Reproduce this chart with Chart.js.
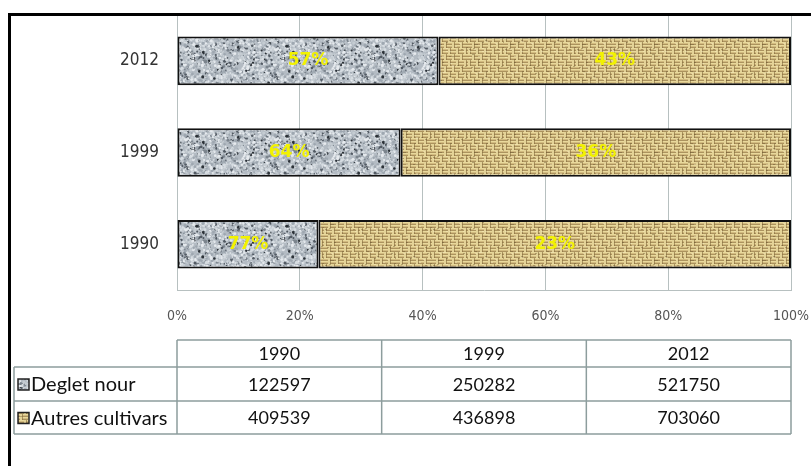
<!DOCTYPE html>
<html>
<head>
<meta charset="utf-8">
<script src="https://cdn.jsdelivr.net/npm/chart.js@4.4.1/dist/chart.umd.min.js"></script>
<style>
  html, body { margin: 0; padding: 0; background: #fff; }
  #wrap { width: 811px; height: 466px; position: relative; }
</style>
</head>
<body>
<div id="wrap"><canvas id="chart" width="811" height="466"></canvas></div>
<script>
// data
var years = ['1990', '1999', '2012'];
var seriesNames = ['Deglet nour', 'Autres cultivars'];
var degletNour = [122597, 250282, 521750];
var autresCultivars = [409539, 436898, 703060];
// percentage labels as printed on the bars
var degletLabels = ['77%', '64%', '57%'];
var autresLabels = ['23%', '36%', '43%'];
var xTicks = [0, 20, 40, 60, 80, 100];

// simple seeded generator, only used for the textures
var seed = 12345;
function rnd() {
    seed = (seed * 1103515245 + 12345) % 2147483648;
    return seed / 2147483648;
}

function makeGranite() {
    var c = document.createElement('canvas');
    c.width = 90; c.height = 90;
    var g = c.getContext('2d');
    g.fillStyle = '#b3bbc3';
    g.fillRect(0, 0, 90, 90);
    var cols = ['#e6eaee', '#d6dce1', '#c5ccd2', '#9ea7b0', '#7b848d', '#525a63', '#2c3238'];
    var weights = [0.2, 0.2, 0.2, 0.16, 0.1, 0.09, 0.05];
    for (var i = 0; i < 2600; i++) {
        var r = rnd(), k = 0, acc = weights[0];
        while (r > acc && k < cols.length - 1) { k++; acc += weights[k]; }
        var x = rnd() * 90, y = rnd() * 90, s = 0.5 + rnd() * 1.1;
        g.fillStyle = cols[k];
        for (var dx = -90; dx <= 90; dx += 90) {
            for (var dy = -90; dy <= 90; dy += 90) {
                g.beginPath();
                g.arc(x + dx, y + dy, s, 0, Math.PI * 2);
                g.fill();
            }
        }
    }
    return g.createPattern(c, 'repeat');
}

function makeBurlap() {
    var c = document.createElement('canvas');
    c.width = 36; c.height = 36;
    var g = c.getContext('2d');
    g.fillStyle = '#d2bb80';
    g.fillRect(0, 0, 36, 36);
    // horizontal threads
    for (var y = 0; y < 36; y += 3) {
        g.fillStyle = '#e9d99c';
        g.fillRect(0, y, 36, 1);
        g.fillStyle = 'rgba(140,115,65,0.55)';
        g.fillRect(0, y + 2, 36, 1);
    }
    // vertical threads crossing over, broken up
    for (var x = 0; x < 36; x += 4) {
        for (var yy = 0; yy < 36; yy += 6) {
            if (((x / 4) + (yy / 6)) % 2 === 0) {
                g.fillStyle = '#e4d398';
                g.fillRect(x, yy, 2, 6);
                g.fillStyle = 'rgba(130,105,60,0.6)';
                g.fillRect(x + 2, yy, 1, 6);
            }
        }
    }
    for (var i = 0; i < 40; i++) {
        g.fillStyle = rnd() > 0.5 ? 'rgba(90,70,35,0.35)' : 'rgba(250,240,200,0.4)';
        g.fillRect(Math.floor(rnd() * 36), Math.floor(rnd() * 36), 2, 1);
    }
    return g.createPattern(c, 'repeat');
}

var granite = makeGranite();
var burlap = makeBurlap();

var totals = years.map(function(y, i) { return degletNour[i] + autresCultivars[i]; });
var degletPct = degletNour.map(function(v, i) { return v / totals[i] * 100; });
var autresPct = autresCultivars.map(function(v, i) { return v / totals[i] * 100; });

var numFont = '18px Lato, "Open Sans", sans-serif';
var nameFont = '20px Lato, "Open Sans", sans-serif';
var gridColor = '#b7c0c0';
var tableLine = '#8d9d9d';

var barLabels = {
    id: 'barLabels',
    afterDatasetsDraw: function(chart) {
        var ctx = chart.ctx;
        var texts = [degletLabels, autresLabels];
        ctx.save();
        ctx.font = 'bold 17px "DejaVu Sans", sans-serif';
        ctx.fillStyle = '#f2f200';
        ctx.textAlign = 'center';
        ctx.textBaseline = 'middle';
        chart.data.datasets.forEach(function(ds, i) {
            chart.getDatasetMeta(i).data.forEach(function(el, j) {
                ctx.fillText(texts[i][j], (el.x + el.base) / 2, el.y);
            });
        });
        ctx.restore();
    }
};

var frameAndTable = {
    id: 'frameAndTable',
    afterDraw: function(chart) {
        var ctx = chart.ctx;
        var area = chart.chartArea;
        ctx.save();
        // outer frame (left and top only)
        ctx.fillStyle = '#000';
        ctx.fillRect(8, 13, 3, 453);
        ctx.fillRect(8, 13, 803, 3);

        // data table under the axis
        var left = 14, x0 = area.left, x1 = area.right;
        var rows = [area.bottom + 50, area.bottom + 77, area.bottom + 111, area.bottom + 144];
        var colW = (x1 - x0) / years.length;
        ctx.strokeStyle = tableLine;
        ctx.lineWidth = 1.5;
        ctx.beginPath();
        ctx.moveTo(x0, rows[0]); ctx.lineTo(x1, rows[0]);
        for (var r = 1; r < rows.length; r++) {
            ctx.moveTo(left, rows[r]); ctx.lineTo(x1, rows[r]);
        }
        ctx.moveTo(left, rows[1]); ctx.lineTo(left, rows[3]);
        for (var k = 0; k <= years.length; k++) {
            ctx.moveTo(x0 + k * colW, rows[0]); ctx.lineTo(x0 + k * colW, rows[3]);
        }
        ctx.stroke();

        ctx.font = numFont;
        ctx.fillStyle = '#111';
        ctx.textBaseline = 'middle';
        ctx.textAlign = 'center';
        years.forEach(function(y, i) {
            ctx.fillText(y, x0 + (i + 0.5) * colW, (rows[0] + rows[1]) / 2 + 1);
        });
        var values = [degletNour, autresCultivars];
        var fills = [granite, burlap];
        values.forEach(function(vals, s) {
            var cy = (rows[s + 1] + rows[s + 2]) / 2 + 1;
            ctx.font = numFont;
            ctx.textAlign = 'center';
            vals.forEach(function(v, i) {
                ctx.fillText(String(v), x0 + (i + 0.5) * colW, cy);
            });
            ctx.fillStyle = fills[s];
            ctx.fillRect(18, cy - 6, 11, 11);
            ctx.strokeStyle = '#222';
            ctx.lineWidth = 1.5;
            ctx.strokeRect(18, cy - 6, 11, 11);
            ctx.fillStyle = '#111';
            ctx.font = nameFont;
            ctx.textAlign = 'left';
            ctx.fillText(seriesNames[s], 31, cy);
        });
        ctx.restore();
    }
};

new Chart(document.getElementById('chart'), {
    type: 'bar',
    data: {
        labels: years,
        datasets: [{
            label: seriesNames[0],
            data: degletPct,
            backgroundColor: granite,
            borderColor: '#111',
            borderWidth: 2,
            borderSkipped: false,
            barPercentage: 0.53,
            categoryPercentage: 1
        }, {
            label: seriesNames[1],
            data: autresPct,
            backgroundColor: burlap,
            borderColor: '#111',
            borderWidth: 2,
            borderSkipped: false,
            barPercentage: 0.53,
            categoryPercentage: 1
        }]
    },
    options: {
        indexAxis: 'y',
        responsive: false,
        animation: false,
        layout: { padding: { top: 15, right: 20, bottom: 136, left: 0 } },
        plugins: {
            legend: { display: false },
            tooltip: { enabled: false }
        },
        scales: {
            x: {
                stacked: true,
                min: 0,
                max: 100,
                afterFit: function(scale) {
                    scale.height = 40;
                    scale.paddingLeft = 0;
                    scale.paddingRight = 0;
                },
                afterBuildTicks: function(scale) {
                    scale.ticks = xTicks.map(function(v) { return { value: v }; });
                },
                ticks: {
                    padding: 18,
                    color: '#555',
                    font: { size: 14, family: '"Liberation Sans Narrow", "DejaVu Sans Condensed", sans-serif' },
                    callback: function(v) { return v + '%'; }
                },
                grid: { color: gridColor, lineWidth: 1, drawTicks: false },
                border: { display: true, color: gridColor }
            },
            y: {
                stacked: true,
                reverse: true,
                afterFit: function(scale) {
                    scale.width = 177;
                    scale.paddingTop = 0;
                    scale.paddingBottom = 0;
                },
                ticks: {
                    padding: 18,
                    color: '#333',
                    font: { size: 17, family: '"Liberation Sans Narrow", "DejaVu Sans Condensed", sans-serif' }
                },
                grid: { display: false, drawTicks: false },
                border: { display: true, color: gridColor }
            }
        }
    },
    plugins: [barLabels, frameAndTable]
});
</script>
</body>
</html>
